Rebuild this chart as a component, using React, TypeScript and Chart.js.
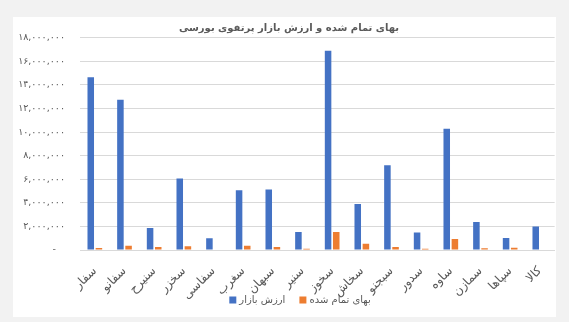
import React, { useEffect, useRef } from 'react';
import { Chart, registerables } from 'chart.js';

Chart.register(...registerables);

const chartTitle = 'بهای تمام شده و ارزش بازار پرتفوی بورسی';
const categories = ['سفار', 'سفانو', 'سنیرح', 'سخزر', 'سفاسی', 'سغرب', 'سبهان', 'سنیر', 'سخوز', 'سخاش', 'سبجنو', 'سدور', 'ساوه', 'سمازن', 'سپاها', 'کالا'];
const seriesNames = ['ارزش بازار', 'بهای تمام شده'];
const seriesColors = ['#4472C4', '#ED7D31'];
const marketValue = [14650000, 12730000, 1860000, 6070000, 990000, 5070000, 5120000, 1530000, 16890000, 3900000, 7190000, 1480000, 10280000, 2380000, 1020000, 2000000];
const costValue = [180000, 370000, 260000, 310000, 40000, 370000, 260000, 100000, 1530000, 530000, 260000, 100000, 940000, 150000, 200000, 40000];
const yMin = 0;
const yMax = 18000000;
const yStep = 2000000;

const FONT = '"DejaVu Sans", "Noto Sans", sans-serif';
const TEXT = '#595959';
const persianDigits = '۰۱۲۳۴۵۶۷۸۹';
const toPersian = (v: number) =>
  v === 0 ? '-   ' : Math.round(v).toLocaleString('en-US').replace(/\d/g, (d) => persianDigits[+d]);

const titlePlugin = {
  id: 'overlayTitle',
  beforeDatasetsDraw(chart: any) {
    const ctx = chart.ctx;
    ctx.save();
    ctx.font = `bold 10px ${FONT}`;
    const w = ctx.measureText(chartTitle).width;
    const cx = 276;
    const cy = 11;
    ctx.fillStyle = '#ffffff';
    ctx.fillRect(cx - w / 2 - 3, cy - 8, w + 6, 16);
    ctx.fillStyle = TEXT;
    ctx.textAlign = 'center';
    ctx.textBaseline = 'middle';
    ctx.fillText(chartTitle, cx, cy);
    ctx.restore();
  },
};

const legendPlugin = {
  id: 'bottomLegend',
  afterDraw(chart: any) {
    const ctx = chart.ctx;
    ctx.save();
    ctx.font = `10px ${FONT}`;
    const box = 7;
    const gap = 3;
    const itemGap = 14;
    const widths = chart.data.datasets.map((d: any) => ctx.measureText(d.label).width);
    const total = widths.reduce((a: number, w: number) => a + box + gap + w, 0) + itemGap * (widths.length - 1);
    const cx = 287;
    const cy = 283;
    let x = cx - total / 2;
    ctx.textBaseline = 'middle';
    ctx.textAlign = 'left';
    chart.data.datasets.forEach((d: any, i: number) => {
      ctx.fillStyle = d.backgroundColor;
      ctx.fillRect(x, cy - box / 2, box, box);
      x += box + gap;
      ctx.fillStyle = TEXT;
      ctx.fillText(d.label, x, cy);
      x += widths[i] + itemGap;
    });
    ctx.restore();
  },
};

export default function App() {
  const ref = useRef<HTMLCanvasElement>(null);
  useEffect(() => {
    if (!ref.current) return;
    const chart = new Chart(ref.current, {
      type: 'bar',
      data: {
        labels: categories,
        datasets: [
          { label: seriesNames[0], data: marketValue, backgroundColor: seriesColors[0], categoryPercentage: 0.55, barPercentage: 0.8 },
          { label: seriesNames[1], data: costValue, backgroundColor: seriesColors[1], categoryPercentage: 0.55, barPercentage: 0.8 },
        ],
      },
      options: {
        responsive: false,
        animation: false,
        layout: { padding: { top: 13, left: 0, right: 0, bottom: 12 } },
        plugins: {
          title: { display: false },
          tooltip: { enabled: false },
          legend: { display: false },
        },
        scales: {
          x: {
            grid: { display: false },
            border: { display: true, color: '#d9d9d9' },
            ticks: {
              autoSkip: false,
              minRotation: 45,
              maxRotation: 45,
              padding: 6,
              color: TEXT,
              font: { family: FONT, size: 12 },
            },
            afterFit: (s: any) => { s.height = 55; },
          },
          y: {
            min: yMin,
            max: yMax,
            border: { display: false },
            grid: { color: '#d9d9d9', drawTicks: false },
            ticks: {
              stepSize: yStep,
              padding: 15,
              color: TEXT,
              font: { family: FONT, size: 9.5 },
              callback: (v: any) => toPersian(Number(v)),
            },
            afterFit: (s: any) => { s.width = 67; },
          },
        },
      },
      plugins: [titlePlugin, legendPlugin],
    });
    return () => chart.destroy();
  }, []);

  return (
    <div style={{ position: 'fixed', inset: 0, background: '#f2f2f2' }}>
      <div style={{ position: 'absolute', left: 13, top: 17, width: 543, height: 300, background: '#ffffff' }}>
        <canvas ref={ref} width={543} height={300} style={{ display: 'block' }} />
      </div>
    </div>
  );
}
